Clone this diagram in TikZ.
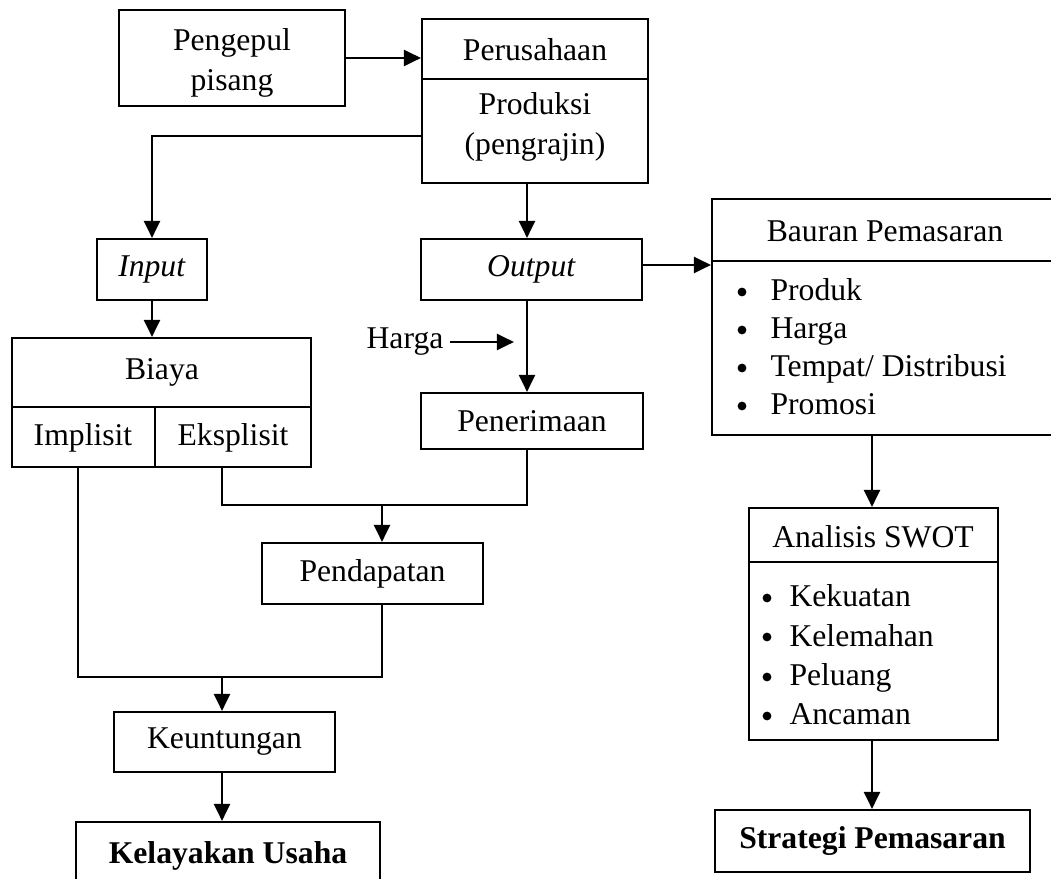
\documentclass[tikz,border=0pt]{standalone}
\usepackage{fontspec}
\setmainfont{Liberation Serif}
\usetikzlibrary{arrows.meta,fit}
\begin{document}
\begin{tikzpicture}[x=0.379pt,y=-0.379pt,
  font=\fontsize{12pt}{15.2pt}\selectfont,
  box/.style={draw,line width=0.75pt,inner sep=0pt},
  divider/.style={line width=0.75pt},
  conn/.style={line width=0.75pt},
  arr/.style={line width=1.1pt,-{Triangle[length=6.5pt,width=6pt]}},
  txt/.style={inner sep=0pt,align=center},
  item/.style={inner sep=0pt,anchor=base west},
  bul/.style={fill=black}]
\path[use as bounding box] (0,0) rectangle (1051,879);
\clip (0,0) rectangle (1051,879);

% boxes
\node[box,fit={(119,10) (345,106)}] (peng) {};
\node[txt] (pengT) at (232,63) {Pengepul\\pisang};
\node[box,fit={(422,19) (648,183)}] (pers) {};
\draw[divider] (422,79) -- (648,79);
\node[txt] (persT) at (535,50) {Perusahaan};
\node[txt] (prod) at (535,127) {Produksi\\(pengrajin)};

\node[box,fit={(97,239) (207,300)},label={[txt]center:\textit{Input}}] (inp) {};
\node[box,fit={(421,239) (642,300)},label={[txt]center:\textit{Output}}] (out) {};

\node[box,fit={(712,199) (1058,435)}] (baur) {};
\draw[divider] (712,261) -- (1058,261);
\node[txt] (baurT) at (885,231) {Bauran Pemasaran};
\fill[bul] (742,292) circle (4.4);
\fill[bul] (742,330) circle (4.4);
\fill[bul] (742,368) circle (4.4);
\fill[bul] (742,406) circle (4.4);
\node[item] (i1) at (770,301) {Produk};
\node[item] (i2) at (770,339) {Harga};
\node[item] (i3) at (770,377) {Tempat/ Distribusi};
\node[item] (i4) at (770,415) {Promosi};

\node[box,fit={(12,338) (311,467)}] (biaya) {};
\draw[divider] (12,407) -- (311,407);
\draw[divider] (155,407) -- (155,467);
\node[txt] (biayaT) at (162,372) {Biaya};
\node[txt] (impl) at (83,438) {Implisit};
\node[txt] (eksp) at (233,438) {Eksplisit};

\node[inner sep=0pt] (harga) at (405,342) {Harga};
\coordinate (hs) at (450,342);
\coordinate (hh) at (514,342);

\node[box,fit={(421,393) (643,449)},label={[txt]center:Penerimaan}] (pen) {};
\node[box,fit={(262,543) (483,604)},label={[txt]center:Pendapatan}] (pend) {};
\node[box,fit={(114,712) (335,772)},label={[txt]center:Keuntungan}] (keun) {};
\node[box,fit={(76,822) (380,890)},label={[txt]center:\textbf{Kelayakan Usaha}}] (kel) {};

\node[box,fit={(749,508) (998,740)}] (ana) {};
\draw[divider] (749,562) -- (998,562);
\node[txt] (anaT) at (873,537) {Analisis SWOT};
\fill[bul] (767,598) circle (4.4);
\fill[bul] (767,637) circle (4.4);
\fill[bul] (767,677) circle (4.4);
\fill[bul] (767,716) circle (4.4);
\node[item] (k1) at (789,607) {Kekuatan};
\node[item] (k2) at (789,647) {Kelemahan};
\node[item] (k3) at (789,686) {Peluang};
\node[item] (k4) at (789,725) {Ancaman};

\node[box,fit={(715,810) (1030,872)},label={[txt]center:\textbf{Strategi Pemasaran}}] (strat) {};

% helper coordinates
\coordinate (pj) at (422,136);
\coordinate (xa) at (527,0);
\coordinate (xb) at (382,0);
\coordinate (xc) at (222,0);
\coordinate (xd) at (872,0);
\coordinate (ek) at (222,467);
\coordinate (jr) at (527,505);
\coordinate (im) at (78,467);
\coordinate (jb) at (382,677);
\coordinate (oy) at (0,265);
\coordinate (ib) at (152,200);

% connectors
\draw[arr] (peng.east) -- (peng.east -| pers.west);
\draw[conn] (pj) -| (ib);
\draw[arr] (ib) -- (inp.north);
\draw[arr] (xa |- pers.south) -- (xa |- out.north);
\draw[arr] (out.east |- oy) -- (baur.west |- oy);
\draw[arr] (inp.south) -- (inp.south |- biaya.north);
\draw[arr] (hs) -- (hh);
\draw[arr] (xa |- out.south) -- (xa |- pen.north);
\draw[conn] (ek) |- (jr) -- (xa |- pen.south);
\draw[arr] (xb |- jr) -- (xb |- pend.north);
\draw[conn] (im) |- (jb) -- (xb |- pend.south);
\draw[arr] (xc |- jb) -- (xc |- keun.north);
\draw[arr] (xc |- keun.south) -- (xc |- kel.north);
\draw[arr] (xd |- baur.south) -- (xd |- ana.north);
\draw[arr] (xd |- ana.south) -- (xd |- strat.north);
\end{tikzpicture}
\end{document}
